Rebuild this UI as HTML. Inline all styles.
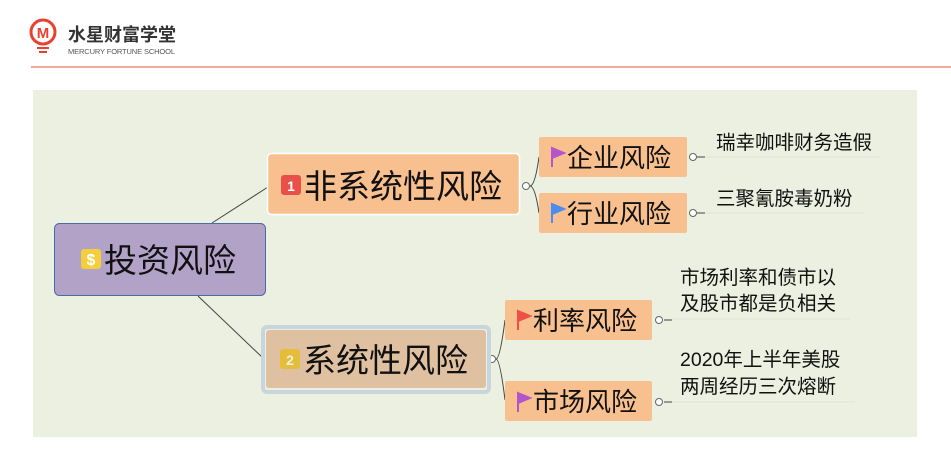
<!DOCTYPE html>
<html><head><meta charset="utf-8"><style>
body{margin:0;width:951px;height:475px;background:#fff;overflow:hidden;font-family:"Liberation Sans","Noto Sans CJK SC",sans-serif}
</style></head><body>
<svg width="951" height="475" xmlns="http://www.w3.org/2000/svg" style="position:absolute;left:0;top:0;font-family:'Liberation Sans','Noto Sans CJK SC',sans-serif">
<!-- header -->
<circle cx="43" cy="32" r="12" fill="none" stroke="#e8412f" stroke-width="3"/>
<text x="43" y="38" font-size="15" font-weight="bold" fill="#e8412f" text-anchor="middle">M</text>
<line x1="37" y1="48" x2="49" y2="48" stroke="#e8412f" stroke-width="2"/>
<line x1="39" y1="52" x2="47" y2="52" stroke="#e8412f" stroke-width="2"/>
<text x="68" y="41" font-size="18" font-weight="bold" fill="#333">水星财富学堂</text>
<text x="68" y="54" font-size="7.5" fill="#555" textLength="107">MERCURY FORTUNE SCHOOL</text>
<line x1="31" y1="67" x2="951" y2="67" stroke="#f4a9a0" stroke-width="2"/>
<!-- bg -->
<rect x="33" y="90" width="884" height="347" fill="#ecf0e0"/>
<!-- connectors -->
<g stroke="#444" stroke-width="1" fill="none">
<line x1="212" y1="223" x2="268" y2="187"/>
<line x1="198" y1="296" x2="264" y2="359"/>
<path d="M530,186 Q535,186 539,157 M530,186 Q535,186 539,213"/>
<path d="M496,359 Q500,359 505,320 M496,359 Q500,359 505,400"/>
<line x1="697" y1="157" x2="705" y2="157"/>
<line x1="697" y1="213" x2="705" y2="213"/>
<line x1="664" y1="320" x2="672" y2="320"/>
<line x1="664" y1="402" x2="672" y2="402"/>
</g>
<g stroke="#dfe3d2" stroke-width="1">
<line x1="705" y1="157" x2="880" y2="157"/>
<line x1="705" y1="213" x2="865" y2="213"/>
<line x1="672" y1="319" x2="850" y2="319"/>
<line x1="672" y1="402" x2="855" y2="402"/>
</g>
<g fill="#fff" stroke="#666" stroke-width="1">
<circle cx="526" cy="186" r="3.5"/><circle cx="492" cy="359" r="3.5"/>
<circle cx="693" cy="157" r="3.5"/><circle cx="693" cy="213" r="3.5"/>
<circle cx="659" cy="320" r="3.5"/><circle cx="659" cy="402" r="3.5"/>
</g>
<!-- root -->
<rect x="54.5" y="223.5" width="211" height="72" rx="5" fill="#b3a2c8" stroke="#4a6aa8"/>
<rect x="81" y="249" width="20" height="20" rx="3" fill="#f4cf3a"/>
<text x="91" y="265" font-size="16" font-weight="bold" fill="#fff" text-anchor="middle">$</text>
<text x="104" y="272" font-size="33" fill="#111">投资风险</text>
<!-- node1 -->
<rect x="267.5" y="153.5" width="252" height="61" rx="4" fill="#f9c08f" stroke="#fff" stroke-width="1.5"/>
<rect x="281" y="175" width="20" height="20" rx="3" fill="#e8504a"/>
<text x="291" y="191" font-size="14" font-weight="bold" fill="#fff" text-anchor="middle">1</text>
<text x="304" y="198" font-size="33" fill="#111">非系统性风险</text>
<!-- node2 -->
<rect x="263" y="327" width="226" height="65" rx="4" fill="none" stroke="#c6d6dc" stroke-width="4"/>
<rect x="266" y="330" width="220" height="58" rx="3" fill="#dfc0a0"/>
<rect x="280" y="349" width="20" height="20" rx="3" fill="#e4bd3a"/>
<text x="290" y="365" font-size="14" font-weight="bold" fill="#f5f0e0" text-anchor="middle">2</text>
<text x="303" y="372" font-size="33" fill="#111">系统性风险</text>
<!-- level2 -->
<rect x="539" y="137" width="148" height="40" rx="2" fill="#f9c08f"/>
<rect x="539" y="193" width="148" height="40" rx="2" fill="#f9c08f"/>
<rect x="505" y="300" width="147" height="40" rx="2" fill="#f9c08f"/>
<rect x="505" y="381" width="147" height="40" rx="2" fill="#f9c08f"/>
<path d="M552,148 l0,19 M552,148 l12,5 l-12,5z" fill="#b455cc" stroke="#b455cc" stroke-width="2"/>
<path d="M552,204 l0,19 M552,204 l12,5 l-12,5z" fill="#4a8cf0" stroke="#4a8cf0" stroke-width="2"/>
<path d="M518,311 l0,19 M518,311 l12,5 l-12,5z" fill="#ee5048" stroke="#ee5048" stroke-width="2"/>
<path d="M518,393 l0,19 M518,393 l12,5 l-12,5z" fill="#b455cc" stroke="#b455cc" stroke-width="2"/>
<g font-size="26" fill="#111">
<text x="567" y="167">企业风险</text>
<text x="567" y="223">行业风险</text>
<text x="533" y="330">利率风险</text>
<text x="533" y="411">市场风险</text>
</g>
<g font-size="19.5" fill="#111">
<text x="716" y="149">瑞幸咖啡财务造假</text>
<text x="716" y="205">三聚氰胺毒奶粉</text>
<text x="680" y="284">市场利率和债市以</text>
<text x="680" y="310">及股市都是负相关</text>
<text x="680" y="366">2020年上半年美股</text>
<text x="680" y="393">两周经历三次熔断</text>
</g>
</svg>
</body></html>
